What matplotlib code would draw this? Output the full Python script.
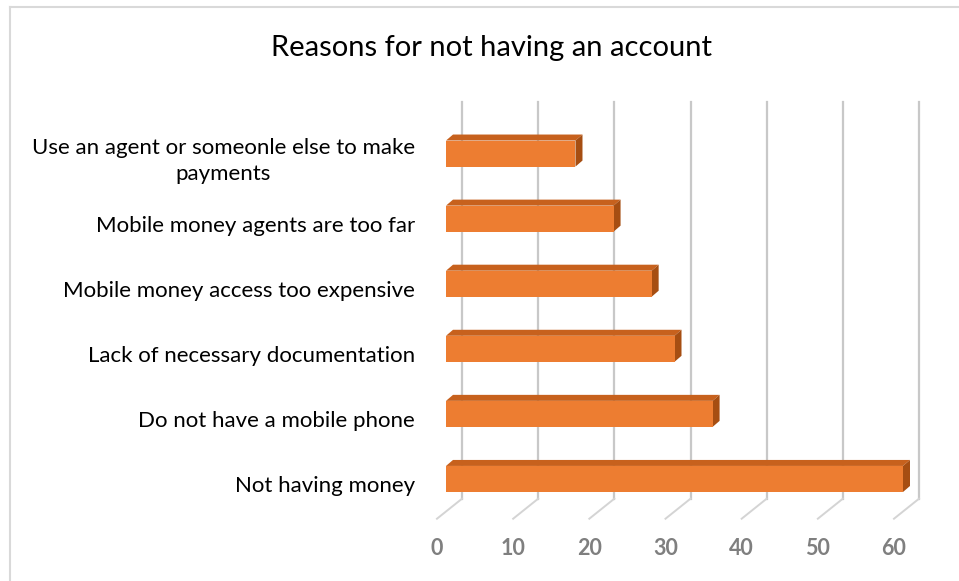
import numpy as np
import matplotlib
matplotlib.use("Agg")
import matplotlib.pyplot as plt
from matplotlib.patches import Polygon
from matplotlib.lines import Line2D
from matplotlib.transforms import ScaledTranslation

# data (bottom to top)
reasons = [
    "Not having money",
    "Do not have a mobile phone",
    "Lack of necessary documentation",
    "Mobile money access too expensive",
    "Mobile money agents are too far",
    "Use an agent or someonle else to make\npayments",
]
percent = [60, 35, 30, 27, 22, 17]
xticks = [0, 10, 20, 30, 40, 50, 60]

plt.rcParams['font.family'] = ['Lato', 'DejaVu Sans']

W, H = 959, 581
fig = plt.figure(figsize=(W / 100, H / 100), dpi=100)
ax = fig.add_axes([446 / W, 1 - 511.5 / H, 457 / W, 397 / H])
ax.set_xlim(0, 60)
ax.set_ylim(-0.5, 5.6)
ax.axis('off')

def shift(dx, dy):
    # pixel offset -> display translation
    return ScaledTranslation(dx / 100, dy / 100, fig.dpi_scale_trans)

def data_delta(dx, dy):
    p0 = ax.transData.transform((0, 0))
    return ax.transData.inverted().transform(p0 + np.array([dx, dy]))

back = ax.transData + shift(16, 12.8)
front = ax.transData + shift(-9, -7.2)
grid_col = '#c8c8c8'
ymin, ymax = ax.get_ylim()

# back wall gridlines + floor diagonals
for v in xticks:
    ax.add_line(Line2D([v, v], [ymin, ymax], color=grid_col, lw=1.6,
                       transform=back, zorder=1, clip_on=False))
    x0, y0 = back.transform((v, ymin))
    x1, y1 = front.transform((v, ymin))
    ax.add_line(Line2D([x0, x1], [y0, y1], color='#d4d4d4', lw=1.4,
                       transform=None, zorder=1, clip_on=False))
    ax.text(v, -0.5, str(v), transform=ax.transData + shift(-9, -37),
            ha='center', va='center', fontsize=15.5, fontweight='bold',
            color='#7f7f7f')

# bars with fake depth
h = 0.40
ddx, ddy = data_delta(7, 6)
y = np.arange(len(reasons))
ax.barh(y, percent, height=h, color='#ED7D31', zorder=3, clip_on=False)
for yi, v in zip(y, percent):
    top = [(0, yi + h / 2), (v, yi + h / 2), (v + ddx, yi + h / 2 + ddy), (ddx, yi + h / 2 + ddy)]
    side = [(v, yi - h / 2), (v, yi + h / 2), (v + ddx, yi + h / 2 + ddy), (v + ddx, yi - h / 2 + ddy)]
    ax.add_patch(Polygon(top, closed=True, facecolor='#C7611D', edgecolor='none',
                         zorder=2, clip_on=False))
    ax.add_patch(Polygon(side, closed=True, facecolor='#A64E12', edgecolor='none',
                         zorder=2, clip_on=False))

# category labels
for yi, lab in zip(y, reasons):
    ax.text(0, yi, lab, transform=ax.get_yaxis_transform() + shift(-31, -7.2),
            ha='right', va='center', multialignment='center', fontsize=16,
            color='black', linespacing=1.4)

fig.text(491 / W, 1 - 48 / H, "Reasons for not having an account",
         ha='center', va='center', fontsize=21, color='black')

# chart area border (top and left only visible)
fig.add_artist(Line2D([10 / W, 1], [1 - 7 / H, 1 - 7 / H], color='#d9d9d9', lw=1.5,
                      transform=fig.transFigure))
fig.add_artist(Line2D([10 / W, 10 / W], [0, 1 - 7 / H], color='#d9d9d9', lw=1.5,
                      transform=fig.transFigure))

fig.savefig("out.png", dpi=100)
